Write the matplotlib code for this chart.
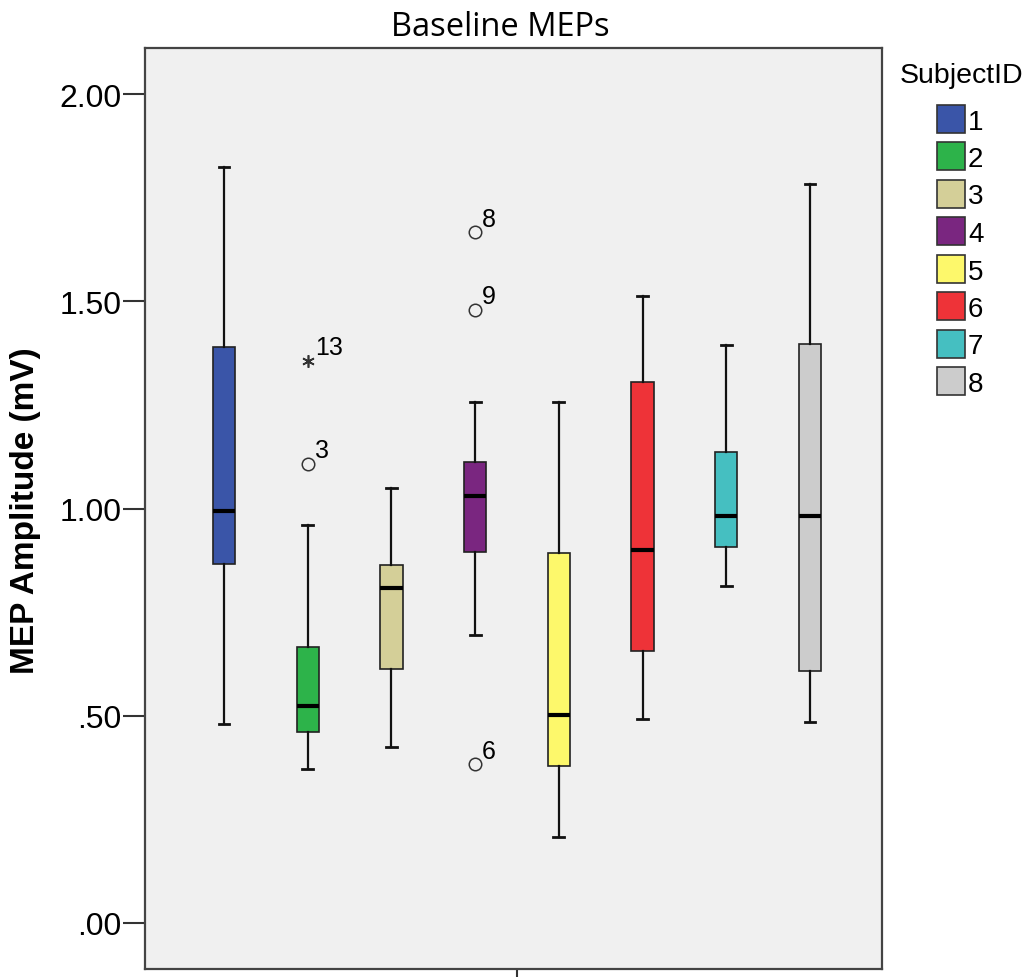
import numpy as np
import matplotlib
matplotlib.use("Agg")
import matplotlib.pyplot as plt
from matplotlib.patches import Rectangle

# box statistics per subject
subject_ids = ['1', '2', '3', '4', '5', '6', '7', '8']
whisk_lo = [0.48, 0.371, 0.424, 0.694, 0.207, 0.492, 0.812, 0.484]
q1 = [0.865, 0.46, 0.612, 0.896, 0.378, 0.655, 0.908, 0.607]
med = [0.993, 0.523, 0.807, 1.029, 0.501, 0.901, 0.983, 0.981]
q3 = [1.39, 0.667, 0.863, 1.111, 0.892, 1.306, 1.137, 1.398]
whisk_hi = [1.824, 0.959, 1.05, 1.258, 1.258, 1.513, 1.395, 1.783]
colors = ['#3a55a8', '#2db34a', '#d4cf98', '#7a2680', '#fdf86b', '#ee3338', '#45bfc1', '#cccccc']

# outliers: (subject index, value, case label, extreme?)
out_subject = [2, 2, 4, 4, 4]
out_value = [1.357, 1.108, 1.667, 1.48, 0.383]
out_label = ['13', '3', '8', '9', '6']
out_extreme = [True, False, False, False, False]

W, H = 1032, 978
fig = plt.figure(figsize=(W / 100, H / 100), dpi=100)
ax = fig.add_axes([145 / W, (H - 970) / H, (882 - 145) / W, (970 - 49) / H])
ax.set_facecolor('#f0f0f0')

positions = np.arange(1, len(subject_ids) + 1)
stats = []
for i in range(len(subject_ids)):
    stats.append({'whislo': whisk_lo[i], 'q1': q1[i], 'med': med[i], 'q3': q3[i],
                  'whishi': whisk_hi[i], 'fliers': []})

bp = ax.bxp(stats, positions=positions, widths=0.265, patch_artist=True,
            showfliers=False, capwidths=0.13,
            boxprops=dict(edgecolor='#222222', linewidth=1.2),
            medianprops=dict(color='black', linewidth=3),
            whiskerprops=dict(color='#111111', linewidth=1.6),
            capprops=dict(color='#111111', linewidth=2))
for patch, c in zip(bp['boxes'], colors):
    patch.set_facecolor(c)

for s, v, lab, ext in zip(out_subject, out_value, out_label, out_extreme):
    if ext:
        ax.plot(s, v, marker=(6, 2, 0), markersize=9, color='#333333',
                markeredgewidth=1.2, linestyle='none')
    else:
        ax.plot(s, v, marker='o', markersize=9, markerfacecolor='none',
                markeredgecolor='#333333', markeredgewidth=1.1, linestyle='none')
    ax.annotate(lab, (s, v), xytext=(5, 1), textcoords='offset points', va='bottom',
                fontsize=18, family='Liberation Sans', color='black')

ax.set_xlim(1 - 79 / 83.7, 8 + 72 / 83.7)
ax.set_ylim(-0.111, 2.111)
ax.set_xticks([4.5])
ax.set_xticklabels([''])
ax.tick_params(axis='x', length=7, width=1.5, color='#333333')
yt = [0.0, 0.5, 1.0, 1.5, 2.0]
ax.set_yticks(yt)
ax.set_yticklabels(['.00', '.50', '1.00', '1.50', '2.00'], family='Liberation Sans', fontsize=23)
ax.tick_params(axis='y', length=16, width=1.5, color='#333333', pad=1)
for sp in ax.spines.values():
    sp.set_color('#444444')
    sp.set_linewidth(1.6)

fig.text(26 / W, 1 - 511 / H, 'MEP Amplitude (mV)', family='Liberation Sans',
         fontweight='bold', fontsize=24, rotation=90, ha='center', va='center')
fig.text(500 / W, 1 - 28 / H, 'Baseline MEPs', family='Open Sans', fontsize=23.5,
         ha='center', va='center')

# legend
fig.text(900 / W, 1 - 76 / H, 'SubjectID', family='Liberation Sans', fontsize=20.5,
         ha='left', va='center')
for i, (sid, c) in enumerate(zip(subject_ids, colors)):
    yc = 119.5 + i * 37.5
    fig.add_artist(Rectangle((937 / W, 1 - (yc + 14) / H), 28 / W, 28 / H,
                             transform=fig.transFigure, facecolor=c,
                             edgecolor='#333333', linewidth=1.2))
    fig.text(968 / W, 1 - (yc + 3) / H, sid, family='Liberation Sans', fontsize=20,
             ha='left', va='center')

fig.savefig('out.png', dpi=100)
